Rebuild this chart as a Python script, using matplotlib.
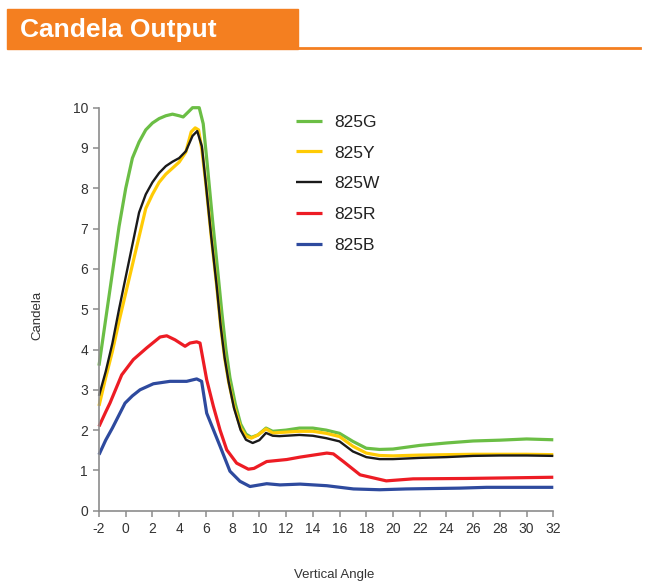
import matplotlib.pyplot as plt
from matplotlib.patches import Rectangle
from matplotlib.lines import Line2D

# ---- DATA ----
g_x = [-2, -1.5, -1, -0.5, 0, 0.5, 1, 1.5, 2, 2.5, 3, 3.5, 4, 4.3, 4.7, 5.0, 5.5, 5.8,
       6.1, 6.5, 6.9, 7.2, 7.5, 7.8, 8.2, 8.6, 9.0, 9.4, 9.9, 10.5, 11.0, 12.0, 13.0, 14.0,
       15.0, 16.0, 17.0, 18.0, 19.0, 20.0, 22.0, 24.0, 26.0, 28.0, 30.0, 32.0]
g_y = [3.6, 4.75, 5.9, 7.05, 8.0, 8.75, 9.15, 9.45, 9.62, 9.73, 9.8, 9.84, 9.8, 9.77, 9.9,
       10.0, 10.0, 9.6, 8.6, 7.2, 5.9, 4.9, 4.0, 3.3, 2.65, 2.15, 1.9, 1.82, 1.88, 2.05, 1.97,
       2.0, 2.05, 2.05, 2.0, 1.92, 1.72, 1.55, 1.52, 1.53, 1.62, 1.68, 1.73, 1.75, 1.78, 1.76]

y_x = [-2, -1.5, -1, -0.5, 0, 0.5, 1, 1.5, 2, 2.5, 3, 3.5, 4, 4.5, 4.9, 5.2, 5.45, 5.7,
       6.0, 6.4, 6.8, 7.1, 7.4, 7.7, 8.1, 8.6, 9.0, 9.4, 9.9, 10.5, 11.0, 12.0, 13.0, 14.0,
       15.0, 16.0, 17.0, 18.0, 19.0, 20.0, 22.0, 24.0, 26.0, 28.0, 30.0, 32.0]
y_y = [2.6, 3.3, 3.95, 4.7, 5.4, 6.1, 6.8, 7.5, 7.85, 8.15, 8.35, 8.5, 8.65, 8.9, 9.4,
       9.5, 9.45, 8.96, 8.1, 6.8, 5.6, 4.6, 3.8, 3.2, 2.6, 2.05, 1.85, 1.8, 1.88, 2.03, 1.93,
       1.95, 1.97, 1.97, 1.92, 1.84, 1.6, 1.43, 1.37, 1.36, 1.38, 1.39, 1.40, 1.40, 1.40, 1.39]

w_x = [-2, -1.5, -1, -0.5, 0, 0.5, 1, 1.5, 2, 2.5, 3, 3.5, 4, 4.5, 5.0, 5.35, 5.7,
       6.0, 6.4, 6.8, 7.1, 7.4, 7.7, 8.1, 8.6, 9.0, 9.5, 10.0, 10.5, 11.0, 11.5, 13.0, 14.0,
       15.0, 16.0, 17.0, 18.0, 19.0, 20.0, 22.0, 24.0, 26.0, 28.0, 30.0, 32.0]
w_y = [2.85, 3.45, 4.15, 5.0, 5.8, 6.6, 7.4, 7.85, 8.15, 8.38, 8.55, 8.66, 8.75, 8.92,
       9.3, 9.42, 9.04, 8.1, 6.8, 5.6, 4.6, 3.8, 3.2, 2.55, 2.0, 1.76, 1.68, 1.75, 1.93, 1.86,
       1.85, 1.88, 1.86, 1.8, 1.72, 1.47, 1.33, 1.28, 1.28, 1.31, 1.33, 1.36, 1.37, 1.37, 1.36]

r_x = [-2, -1.5, -1.18, -0.3, 0.57, 1.57, 2.57, 3.07, 3.69, 4.44, 4.81, 5.31, 5.56,
       6.06, 6.56, 7.06, 7.56, 8.3, 9.18, 9.6, 10.55, 12.05, 13.05, 15.05, 15.54, 16.29,
       17.54, 19.5, 21.5, 25.5, 32.0]
r_y = [2.09, 2.45, 2.67, 3.37, 3.75, 4.04, 4.31, 4.34, 4.24, 4.08, 4.16, 4.19, 4.16,
       3.25, 2.59, 2.0, 1.51, 1.18, 1.03, 1.05, 1.22, 1.27, 1.33, 1.43, 1.41, 1.22,
       0.89, 0.74, 0.79, 0.80, 0.83]

b_x = [-2, -1.5, -1, -0.05, 0.5, 1.07, 2.07, 3.31, 4.56, 5.31, 5.68, 6.06, 7.06, 7.8,
       8.55, 9.3, 10.55, 11.55, 13.05, 15.05, 17.04, 19.0, 21.0, 25.0, 27.0, 32.0]
b_y = [1.39, 1.75, 2.05, 2.67, 2.85, 3.0, 3.15, 3.21, 3.21, 3.27, 3.21, 2.42, 1.6, 0.98,
       0.73, 0.6, 0.67, 0.64, 0.66, 0.62, 0.54, 0.52, 0.54, 0.56, 0.58, 0.58]

labels = ["825G", "825Y", "825W", "825R", "825B"]
colors = ["#6BBE45", "#FFCB05", "#1A1A1A", "#ED1C24", "#2E4A9E"]
widths = [2.3, 2.3, 1.7, 2.3, 2.3]

x_ticks = list(range(-2, 33, 2))
y_ticks = list(range(0, 11))

plt.rcParams["font.family"] = ["Liberation Sans", "DejaVu Sans"]
plt.rcParams["axes.unicode_minus"] = False

fig = plt.figure(figsize=(6.45, 5.82), dpi=100)

# ---- HEADER ----
orange = "#F47F20"
fig.patches.append(Rectangle((7 / 645, 1 - 49 / 582), 291 / 645, 40 / 582,
                             transform=fig.transFigure, color=orange, zorder=0))
fig.add_artist(Line2D([298 / 645, 640 / 645], [1 - 47.5 / 582, 1 - 47.5 / 582],
                      transform=fig.transFigure, color=orange, lw=2))
fig.text(20 / 645, 1 - 30 / 582, "Candela Output", color="white", fontsize=19,
         fontweight="bold", va="center", ha="left")

# ---- PLOT ----
ax = fig.add_axes([99 / 645, 1 - 510.7 / 582, 454.3 / 645, 403 / 582])
series = [(g_x, g_y), (y_x, y_y), (w_x, w_y), (r_x, r_y), (b_x, b_y)]
for (xs, ys), lab, col, lw in zip(series, labels, colors, widths):
    ax.plot(xs, ys, color=col, lw=lw, label=lab, clip_on=False,
            solid_joinstyle="round", solid_capstyle="butt")

ax.set_xlim(-2, 32)
ax.set_ylim(0, 10)
ax.set_xticks(x_ticks)
ax.set_yticks(y_ticks)
for side in ["top", "right"]:
    ax.spines[side].set_visible(False)
for side in ["left", "bottom"]:
    ax.spines[side].set_color("#8C8C8C")
    ax.spines[side].set_linewidth(1.2)
ax.tick_params(colors="#8C8C8C", labelcolor="#333333", labelsize=10,
               length=4, width=1.1, direction="out", pad=4)

fig.text(37 / 645, 1 - 315 / 582, "Candela", rotation=90, fontsize=9.5,
         color="#333333", ha="center", va="center")
fig.text(334 / 645, 1 - 575 / 582, "Vertical Angle", fontsize=9.5,
         color="#333333", ha="center", va="center")

leg = ax.legend(loc="upper left", bbox_to_anchor=(280 / 645, 1 - 99 / 582),
                bbox_transform=fig.transFigure, frameon=False, fontsize=12.5,
                handlelength=1.5, handletextpad=0.7, labelspacing=0.9)
for t in leg.get_texts():
    t.set_color("#222222")

fig.savefig("out.png", dpi=100)
